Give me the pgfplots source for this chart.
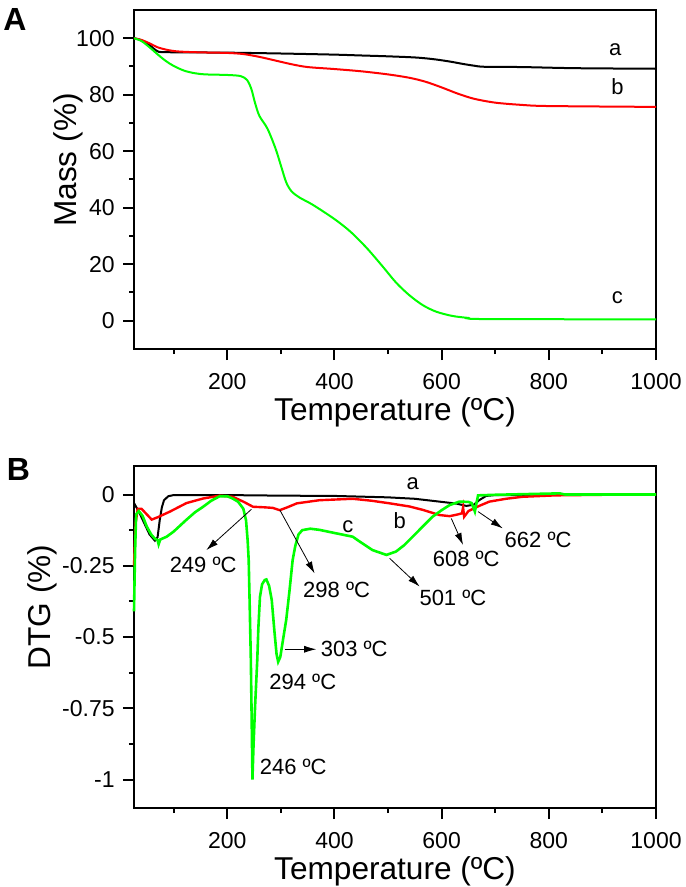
\documentclass[border=0pt]{standalone}
\usepackage{fontspec}
\setmainfont{Liberation Sans}
\usepackage{pgfplots}
\usepackage{pgfplotstable}
\pgfplotsset{compat=1.18}
\usetikzlibrary{arrows.meta}

\definecolor{tgred}{RGB}{255,0,0}
\definecolor{tggreen}{RGB}{0,255,0}

% TGA curves (mass %)
\pgfplotstableread{
T m
26 100
35 99.6
45 98.8
55 97.6
63 96.3
70 95.4
78 95.1
120 95.0
200 94.9
300 94.6
400 94.2
450 93.9
500 93.6
550 93.2
580 92.7
600 92.2
620 91.6
640 90.9
660 90.3
680 89.9
750 89.8
850 89.4
1000 89.2
}\tgaA
\pgfplotstableread{
T m
26 100
40 99.4
55 98.2
70 96.8
90 95.8
110 95.3
150 95.0
200 94.8
230 94.4
260 93.4
290 92.1
320 90.8
350 89.8
400 89.1
450 88.3
500 87.2
540 86.0
570 84.6
600 82.6
630 80.4
660 78.6
700 77.2
750 76.4
800 76.0
1000 75.7
}\tgaB
\pgfplotstableread{
T m
26 100
40 99
55 96.8
70 94.3
85 92
100 90.2
120 88.5
140 87.6
160 87.2
200 87.0
225 86.6
237 85.2
245 82
252 77
260 72.5
275 68
290 61
300 55
310 49
320 45.8
335 43.6
360 41
400 36
430 31.5
460 25.8
490 19.2
515 13.5
540 9
565 5.5
590 3.2
620 1.7
650 1.0
680 0.6
1000 0.5
}\tgaC

% DTG curves
\pgfplotstableread{
T d
26 -0.03
35 -0.06
45 -0.10
55 -0.14
65 -0.162
70 -0.15
74 -0.09
78 -0.045
82 -0.02
90 -0.006
100 -0.002
200 -0.002
300 -0.004
400 -0.005
500 -0.010
550 -0.015
596 -0.025
628 -0.032
646 -0.040
660 -0.036
670 -0.02
683 -0.005
700 -0.002
1000 0
}\dtgA
\pgfplotstableread{
T d
26 -0.25
29 -0.10
33 -0.05
40 -0.05
50 -0.07
59 -0.088
70 -0.08
93 -0.06
124 -0.03
155 -0.014
186 -0.004
210 -0.008
230 -0.025
248 -0.043
270 -0.045
285 -0.047
298 -0.055
312 -0.045
330 -0.031
372 -0.02
434 -0.015
470 -0.022
503 -0.031
540 -0.042
565 -0.054
596 -0.072
615 -0.076
630 -0.07
638 -0.066
640 -0.045
642 -0.078
650 -0.058
670 -0.04
689 -0.025
720 -0.015
751 -0.008
813 -0.003
900 -0.001
1000 0
}\dtgB
\pgfplotstableread{
T d
26 -0.41
28 -0.2
30 -0.07
35 -0.058
42 -0.075
50 -0.113
58 -0.14
65 -0.155
70 -0.16
72 -0.175
75 -0.158
87 -0.148
100 -0.13
123 -0.09
140 -0.062
155 -0.043
170 -0.022
186 -0.006
200 -0.006
210 -0.014
220 -0.025
230 -0.05
235 -0.09
238 -0.16
240 -0.23
242 -0.40
244 -0.58
246 -0.85
247 -1.0
249 -0.88
252 -0.74
256 -0.58
258 -0.47
261 -0.36
265 -0.315
270 -0.30
273 -0.298
278 -0.32
283 -0.37
288 -0.48
292 -0.56
295 -0.587
299 -0.57
304 -0.51
310 -0.44
316 -0.34
322 -0.23
327 -0.18
333 -0.14
340 -0.125
355 -0.12
372 -0.124
400 -0.135
434 -0.148
447 -0.165
471 -0.195
497 -0.212
515 -0.20
530 -0.178
546 -0.148
565 -0.112
583 -0.078
600 -0.055
615 -0.037
633 -0.025
650 -0.026
656 -0.03
659 -0.045
662 -0.06
665 -0.03
668 -0.003
700 -0.001
820 0.004
830 0
1000 0
}\dtgC

\pgfplotsset{
  panel/.style={
    scale only axis, width=261pt,
    xmin=26, xmax=1000,
    xtick={200,400,600,800,1000},
    xticklabels={200,400,600,800,1000},
    minor xtick={100,300,500,700,900},
    tick align=outside, tick pos=left,
    major tick length=5.5pt, minor tick length=2.5pt,
    axis line style={line width=1pt},
    tick style={line width=1pt, black},
    tick label style={font=\fontsize{11.5}{13}\selectfont, inner sep=0pt},
    xticklabel style={anchor=center, yshift=-11pt},
    yticklabel style={anchor=east, xshift=-4pt},
    label style={font=\fontsize{15.8}{18}\selectfont},
    xlabel={Temperature (ºC)},
    /pgf/number format/assume math mode=true,
    clip=false,
  },
}
\tikzset{
  note/.style={font=\fontsize{11}{13}\selectfont, inner sep=0pt},
  arr/.style={-{Latex[length=6pt,width=3.5pt]}, line width=0.4pt},
}

\begin{document}
\begin{tikzpicture}
\begin{axis}[panel,
  at={(67pt,-174.5pt)}, anchor=south west, height=169.5pt,
  ymin=-10, ymax=110,
  ytick={0,20,40,60,80,100}, yticklabels={0,20,40,60,80,100},
  minor ytick={10,30,50,70,90},
  ylabel={Mass (\%)},
  xlabel style={at={(axis description cs:0.5,-0.186)}, anchor=center},
  ylabel style={at={(axis description cs:-0.1264,0.5575)}, anchor=center},
]
\addplot[black, line width=1pt, smooth] table[x=T, y=m] {\tgaA};
\addplot[tgred, line width=1pt, smooth] table[x=T, y=m] {\tgaB};
\addplot[tggreen, line width=1pt, smooth] table[x=T, y=m] {\tgaC};
\node[note] at (axis cs:924,95.8) {a};
\node[note] at (axis cs:928,82.8) {b};
\node[note] at (axis cs:928,8.2) {c};
\end{axis}

\begin{axis}[panel,
  at={(67pt,-404pt)}, anchor=south west, height=171pt,
  ymin=-1.1, ymax=0.1,
  ytick={-1,-0.75,-0.5,-0.25,0}, yticklabels={-1,-0.75,-0.5,-0.25,0},
  minor ytick={-0.875,-0.625,-0.375,-0.125},
  ylabel={DTG (\%)},
  xlabel style={at={(axis description cs:0.5,-0.184)}, anchor=center},
  ylabel style={at={(axis description cs:-0.176,0.588)}, anchor=center},
]
\addplot[black, line width=1pt] table[x=T, y=d] {\dtgA};
\addplot[tgred, line width=1.2pt] table[x=T, y=d] {\dtgB};
\addplot[tggreen, line width=1.3pt] table[x=T, y=d] {\dtgC};
\node[note] at (axis cs:546,0.039) {a};
\node[note] at (axis cs:522,-0.09) {b};
\node[note] at (axis cs:425,-0.113) {c};
\draw[arr] (axis cs:245,-0.052) -- (axis cs:161,-0.195);
\node[note] at (axis cs:155,-0.247) {249 ºC};
\draw[arr] (axis cs:298,-0.054) -- (axis cs:363,-0.277);
\node[note] at (axis cs:404,-0.335) {298 ºC};
\draw[arr] (axis cs:307,-0.543) -- (axis cs:366,-0.543);
\node[note, anchor=west] at (axis cs:374,-0.543) {303 ºC};
\node[note] at (axis cs:341,-0.657) {294 ºC};
\node[note] at (axis cs:323,-0.955) {246 ºC};
\draw[arr] (axis cs:503,-0.224) -- (axis cs:559,-0.323);
\node[note] at (axis cs:621,-0.364) {501 ºC};
\draw[arr] (axis cs:618,-0.084) -- (axis cs:640,-0.177);
\node[note] at (axis cs:646,-0.227) {608 ºC};
\draw[arr] (axis cs:668,-0.06) -- (axis cs:714,-0.119);
\node[note] at (axis cs:780,-0.16) {662 ºC};
\end{axis}

\node[font=\fontsize{16}{18}\selectfont\bfseries] at (7.5pt,-9.5pt) {A};
\node[font=\fontsize{16}{18}\selectfont\bfseries] at (9.25pt,-234.75pt) {B};
\pgfresetboundingbox
\path (0pt,0pt) rectangle (342.5pt,-443.5pt);
\end{tikzpicture}
\end{document}
